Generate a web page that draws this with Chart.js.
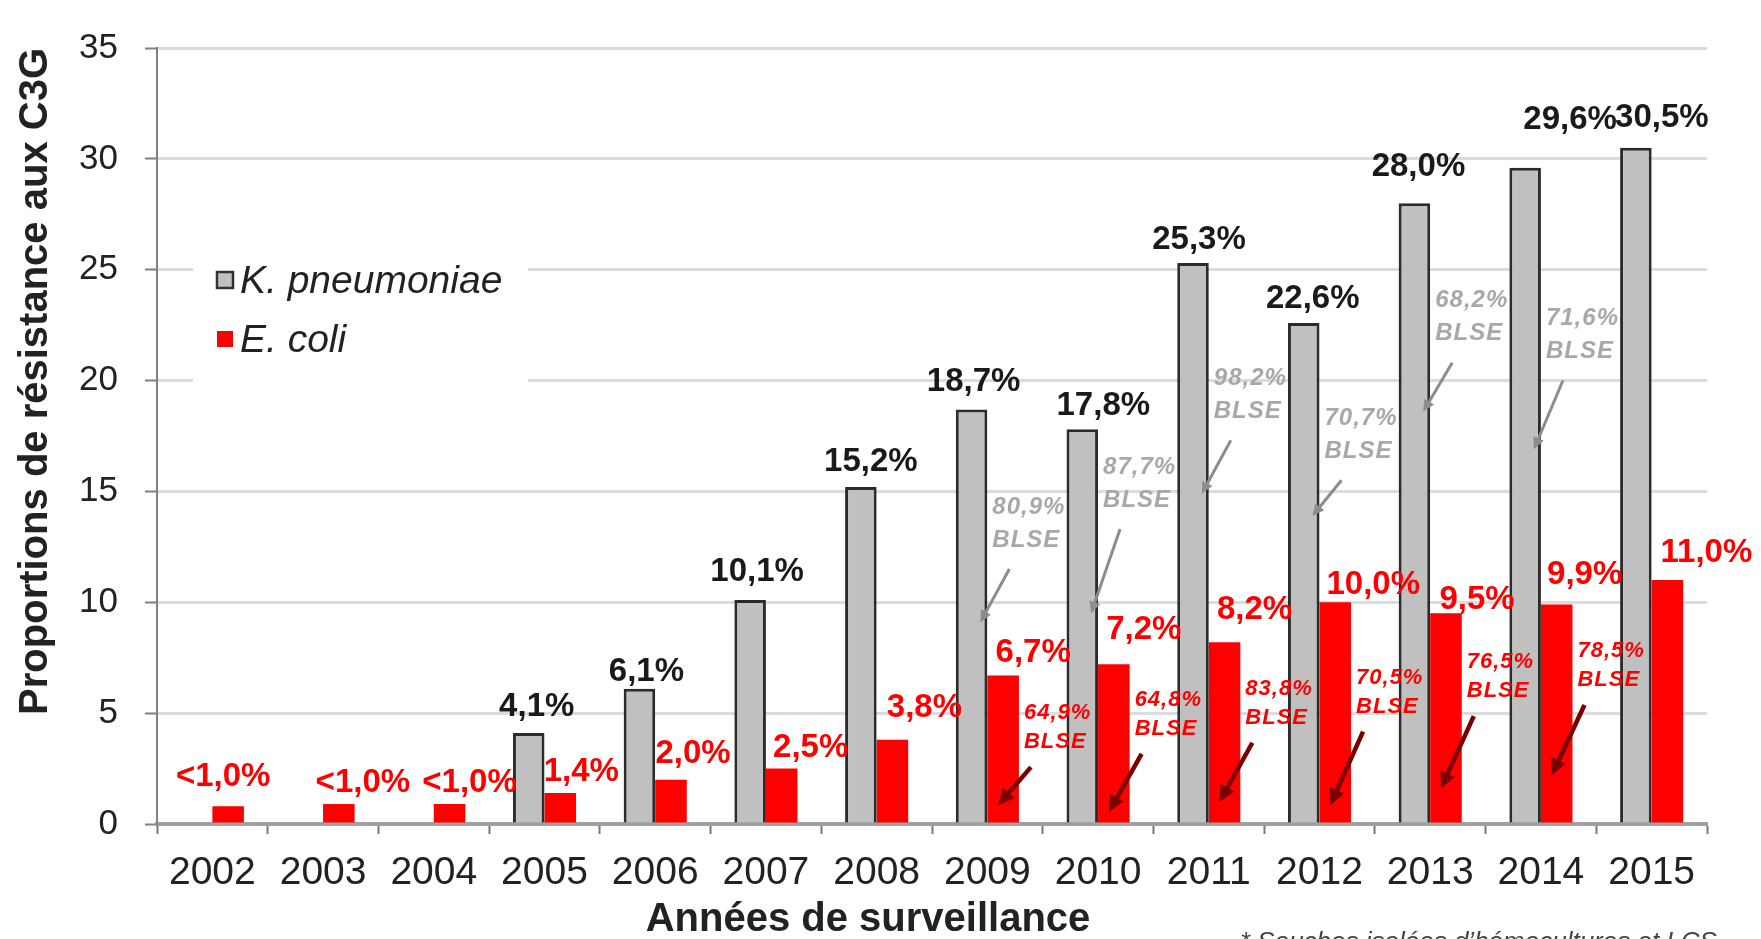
<!DOCTYPE html>
<html lang="fr">
<head>
<meta charset="utf-8">
<title>Résistance aux C3G</title>
<script src="https://cdn.jsdelivr.net/npm/chart.js@4/dist/chart.umd.min.js"></script>
<style>
    html, body { margin: 0; padding: 0; background: #fff; }
    #wrap { width: 1761px; height: 939px; }
</style>
</head>
<body>
<div id="wrap"><canvas id="Chart" width="1761" height="939"></canvas></div>
<script>
var years = ['2002', '2003', '2004', '2005', '2006', '2007', '2008', '2009', '2010', '2011', '2012', '2013', '2014', '2015'];
var kpneumoniae = [null, null, null, 4.1, 6.1, 10.1, 15.2, 18.7, 17.8, 25.3, 22.6, 28.0, 29.6, 30.5];
var ecoli = [0.8, 0.9, 0.9, 1.4, 2.0, 2.5, 3.8, 6.7, 7.2, 8.2, 10.0, 9.5, 9.9, 11.0];
// share of BLSE among resistant strains
var kpBlse = [null, null, null, null, null, null, null, 80.9, 87.7, 98.2, 70.7, 68.2, 71.6, null];
var ecBlse = [null, null, null, null, null, null, null, 64.9, 64.8, 83.8, 70.5, 76.5, 78.5, null];
var yTicks = [0, 5, 10, 15, 20, 25, 30, 35];

// label nudges (px): horizontal shift and gap above the bar top
var kpLabelDx = [0, 0, 0, 8, 7, 7, 10, 2, 21, 6, 9, 4, 45, 26];
var kpLabelGap = [0, 0, 0, 26, 17, 28, 25, 27, 23, 23, 24, 36, 48, 30];
var ecLabelDx = [-5, 24, 20, 21, 22, 29, 32, 30, 30, 30, 38, 31, 28, 39];
var ecLabelGap = [29, 21, 21, 21, 26, 21, 32, 23, 34, 32, 17, 13, 30, 27];
// BLSE notes, in axis units: [first text line, arrow tip]
var kpNoteAt = [null, null, null, null, null, null, null, [14.3, 9.1], [16.1, 9.5], [20.1, 14.9], [18.3, 13.9], [23.6, 18.6], [22.8, 16.9], null];
var ecNoteAt = [null, null, null, null, null, null, null, [5.0, 0.85], [5.6, 0.55], [6.1, 1.0], [6.6, 0.85], [7.3, 1.6], [7.8, 2.2], null];

var FONT = '"Liberation Sans", Arial, sans-serif';
var RED = '#ff0000';
var GREY = '#c0c0c0';

function pct(v) {
    if (v < 1) return '<1,0%';
    return v.toFixed(1).replace('.', ',') + '%';
}

function arrow(ctx, x0, y0, x1, y1, color, lw, head) {
    var a = Math.atan2(y1 - y0, x1 - x0);
    ctx.save();
    ctx.strokeStyle = color;
    ctx.fillStyle = color;
    ctx.lineWidth = lw;
    ctx.beginPath();
    ctx.moveTo(x0, y0);
    ctx.lineTo(x1 - Math.cos(a) * head * 0.8, y1 - Math.sin(a) * head * 0.8);
    ctx.stroke();
    ctx.beginPath();
    ctx.moveTo(x1, y1);
    ctx.lineTo(x1 - head * Math.cos(a - 0.45), y1 - head * Math.sin(a - 0.45));
    ctx.lineTo(x1 - head * Math.cos(a + 0.45), y1 - head * Math.sin(a + 0.45));
    ctx.closePath();
    ctx.fill();
    ctx.restore();
}

var annotations = {
    id: 'annotations',
    afterDatasetsDraw: function (chart) {
        var ctx = chart.ctx;
        var y = chart.scales.y;
        var kpMeta = chart.getDatasetMeta(0);
        var ecMeta = chart.getDatasetMeta(1);

        ctx.save();
        ctx.textAlign = 'center';
        ctx.textBaseline = 'middle';

        // value labels
        ctx.font = 'bold 33px ' + FONT;
        ctx.fillStyle = '#1a1a1a';
        kpneumoniae.forEach(function (v, i) {
            if (v == null) return;
            var bar = kpMeta.data[i];
            ctx.fillText(pct(v), bar.x + kpLabelDx[i], bar.y - kpLabelGap[i]);
        });
        ctx.fillStyle = RED;
        ecoli.forEach(function (v, i) {
            var bar = ecMeta.data[i];
            ctx.fillText(pct(v), bar.x + ecLabelDx[i], bar.y - ecLabelGap[i]);
        });

        // BLSE notes
        ctx.textAlign = 'left';
        ctx.letterSpacing = '1px';
        kpBlse.forEach(function (v, i) {
            if (v == null) return;
            var bar = kpMeta.data[i];
            var right = bar.x + bar.width / 2;
            var ty = y.getPixelForValue(kpNoteAt[i][0]);
            ctx.font = 'italic bold 24px ' + FONT;
            ctx.fillStyle = '#a8a8a8';
            ctx.fillText(pct(v), right + 5, ty);
            ctx.fillText('BLSE', right + 5, ty + 33);
            arrow(ctx, right + 22, ty + 62, right - 7, y.getPixelForValue(kpNoteAt[i][1]), '#8c8c8c', 3, 13);
        });
        ecBlse.forEach(function (v, i) {
            if (v == null) return;
            var bar = ecMeta.data[i];
            var right = bar.x + bar.width / 2;
            var ty = y.getPixelForValue(ecNoteAt[i][0]);
            ctx.font = 'italic bold 22px ' + FONT;
            ctx.fillStyle = RED;
            ctx.fillText(pct(v), right + 5, ty);
            ctx.fillText('BLSE', right + 5, ty + 29);
            arrow(ctx, right + 12, ty + 54, bar.x - 5, y.getPixelForValue(ecNoteAt[i][1]), '#7a0000', 4.5, 18);
        });
        ctx.restore();
    },
    afterDraw: function (chart) {
        var ctx = chart.ctx;
        ctx.save();

        // legend over the grid
        ctx.fillStyle = '#fff';
        ctx.fillRect(193, 252, 335, 130);
        ctx.font = 'italic 39px ' + FONT;
        ctx.textBaseline = 'middle';
        ctx.textAlign = 'left';
        chart.data.datasets.forEach(function (ds, i) {
            var cy = 280 + i * 59;
            if (i === 0) {
                ctx.fillStyle = GREY;
                ctx.fillRect(217, cy - 8, 16, 16);
                ctx.strokeStyle = '#333';
                ctx.lineWidth = 2.5;
                ctx.strokeRect(217, cy - 8, 16, 16);
            } else {
                ctx.fillStyle = RED;
                ctx.fillRect(217, cy - 8, 16, 16);
            }
            ctx.fillStyle = '#222';
            ctx.fillText(ds.label, 240, cy + 2);
        });

        // x axis title, set left of centre
        ctx.font = 'bold 40px ' + FONT;
        ctx.textAlign = 'center';
        ctx.fillStyle = '#222';
        ctx.fillText('Années de surveillance', 868, 920);

        ctx.font = 'italic 26px ' + FONT;
        ctx.textAlign = 'left';
        ctx.textBaseline = 'top';
        ctx.fillStyle = '#444';
        ctx.fillText('* Souches isolées d\u2019hémocultures et LCS', 1240, 930);
        ctx.restore();
    }
};

var ctx = document.getElementById('Chart').getContext('2d');
new Chart(ctx, {
    type: 'bar',
    data: {
        labels: years,
        datasets: [{
            label: 'K. pneumoniae',
            data: kpneumoniae,
            backgroundColor: GREY,
            borderColor: '#2b2b2b',
            borderWidth: 3
        }, {
            label: 'E. coli',
            data: ecoli,
            backgroundColor: RED,
            borderWidth: 0
        }]
    },
    options: {
        responsive: false,
        animation: false,
        devicePixelRatio: 1,
        categoryPercentage: 0.57,
        barPercentage: 1,
        layout: { padding: { top: 39, right: 54, left: 0, bottom: 0 } },
        plugins: {
            legend: { display: false },
            tooltip: { enabled: false }
        },
        scales: {
            x: {
                afterFit: function (scale) { scale.height = 115; },
                grid: {
                    drawOnChartArea: false,
                    tickLength: 10,
                    tickWidth: 2,
                    tickColor: '#777'
                },
                border: { color: '#a0a0a0', width: 4 },
                ticks: {
                    color: '#222',
                    padding: 16,
                    font: { family: FONT, size: 39 }
                }
            },
            y: {
                min: 0,
                max: 35,
                afterFit: function (scale) { scale.width = 157; },
                afterBuildTicks: function (scale) {
                    scale.ticks = yTicks.map(function (v) { return { value: v }; });
                },
                grid: {
                    color: '#dcdcdc',
                    lineWidth: 3,
                    tickLength: 12,
                    tickWidth: 2,
                    tickColor: '#808080'
                },
                border: { color: '#808080', width: 2 },
                ticks: {
                    color: '#222',
                    padding: 27,
                    font: { family: FONT, size: 35 }
                },
                title: {
                    display: true,
                    text: 'Proportions de résistance aux C3G',
                    align: 'end',
                    color: '#222',
                    padding: { top: 12, bottom: 0 },
                    font: { family: FONT, size: 40, weight: 'bold' }
                }
            }
        }
    },
    plugins: [annotations]
});
</script>
</body>
</html>
